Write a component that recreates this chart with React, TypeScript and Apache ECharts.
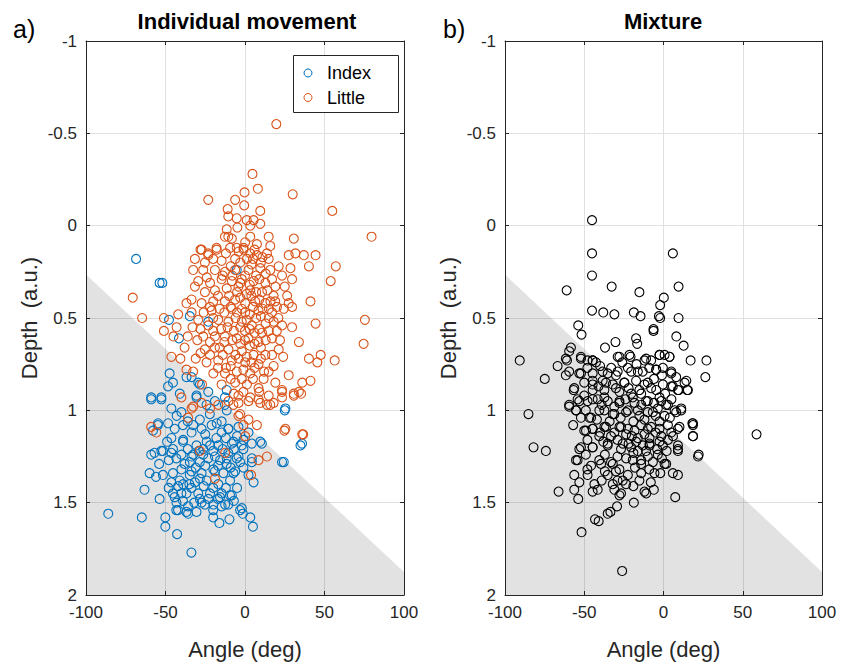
import { useEffect, useRef } from "react";
import * as echarts from "echarts";

const angleTicks = [-100, -50, 0, 50, 100];
const depthRange = [-1, 2];
const shadeAngle = [-100, 100];
const shadeDepth = [0.265, 1.875];

const indexPoints: number[][] = [
  [-68.5,0.18],[-53.7,0.31],[-52,0.31],[-47.8,0.51],[-41.5,0.61],[-34.7,0.49],[-23.1,0.52],[-47.4,0.8],[-48.4,0.87],[-45.3,0.85],[-36.8,0.82],[-59,0.93],[-52.6,0.93],[-41,0.91],[-30.5,0.92],[-28.4,0.86],[-11.5,0.89],[-5.2,0.24],[-33.6,0.82],[-29.4,0.85],[-23.1,0.9],[-18.9,0.95],[-12.6,0.93],
  [-59,0.94],[-52.6,0.94],[-46.3,0.99],[-40,1.01],[-48.4,1.07],[-44.2,1.1],[-54.7,1.07],[-57.9,1.11],[-46.3,1.15],[-38.9,1.16],[-33.6,1.12],[-27.3,1.1],[-21,1.08],[-14.7,1.06],[-10.4,1.1],[-4.1,1.09],[2.2,1.12],[9.6,1.17],[-30.5,1.19],[-24.1,1.17],[-16.8,1.19],[-8.3,1.18],[-2,1.19],[-59,1.24],[-52.6,1.22],[-46.3,1.23],[-40,1.24],[-33.6,1.25],[-26.3,1.24],[-18.9,1.25],[-11.5,1.26],[-4.1,1.25],[4.3,1.26],[24.4,1.28],[35.9,1.18],[25.4,0.99],[-60,1.34],[-51.6,1.35],[-45.3,1.34],[-40,1.32],[-33.6,1.33],[-27.3,1.34],[-19.9,1.32],[-13.6,1.34],[-6.2,1.33],[-1,1.31],[5.4,1.39],[-46.3,1.39],[-38.9,1.4],[-31.5,1.39],[-24.1,1.38],[-16.8,1.4],[-9.4,1.38],[-63.2,1.43],[-53.7,1.48],[-45.3,1.45],[-36.8,1.45],[-29.4,1.45],[-22,1.45],[-14.7,1.45],[-8.3,1.46],[-43.1,1.5],[-35.8,1.52],[-27.3,1.5],[-19.9,1.51],[-12.5,1.51],[-3.1,1.54],[-36.8,1.55],[-42.1,1.54],
  [-30.5,0.93],[-24.2,0.97],[-12.6,0.97],[-11.5,1.0],[-22.1,1.02],[-28.4,1.05],[-32.6,1.08],[-17.8,1.07],[-10.5,1.1],[-14.7,1.12],[-39,1.08],[-54.8,1.08],[-39,1.17],[-26.3,1.21],[-20,1.22],[-7.3,1.17],[-1,1.16],[4.3,1.18],[10.6,1.18],[-1,1.21],[-56.9,1.23],[-51.6,1.22],[-45.3,1.21],[-32.6,1.24],[-10.5,1.23],[-5.2,1.26],[-43.2,1.26],[-34.7,1.28],[-28.4,1.28],[-23.1,1.26],[-15.7,1.27],[-11.5,1.29],[4.3,1.28],[23.3,1.28],[34.9,1.19],[25,1.0],[-41,1.38],[-34.7,1.35],[-28.4,1.37],[-18.9,1.33],[-7.3,1.34],[2.2,1.35],[-44.2,1.47],[-40,1.45],[-33.7,1.42],[-28.4,1.48],[-15.7,1.47],[-9.4,1.46],[-25.2,1.51],[-20,1.54],[-14.7,1.52],[-10.5,1.51],[-43.2,1.54],[-35.8,1.56],[-30.5,1.55],[-2,1.53],[-1.4,1.56],[3.3,1.58],[5,1.63],[-9.8,1.59],[-16.1,1.61],[-20,1.58],[-86,1.56],[-64.9,1.58],[-50.1,1.58],[-50.1,1.63],[-42.7,1.67],[-33.7,1.77],
  [-43,1.03],[-36,1.06],[-25,1.13],[-18,1.15],[-12,1.15],[-5,1.14],[-49,1.17],[-36,1.21],[-29,1.22],[-22,1.19],[-14,1.21],[-7,1.21],[-54,1.29],[-48,1.27],[-38,1.29],[-31,1.31],[-25,1.3],[-17,1.3],[-9,1.31],[-3,1.28],[-56,1.36],[-48,1.42],[-42,1.41],[-35,1.4],[-26,1.41],[-20,1.42],[-12,1.42],[-5,1.42],[-39,1.49],[-32,1.5],[-23,1.48],[-17,1.48],[-7,1.49]
];

const littlePoints: number[][] = [
  [19.7,-0.55],[4.7,-0.28],[-0.3,-0.18],[8.1,-0.2],[30,-0.17],[-23.1,-0.14],[-6.2,-0.14],[-0.5,-0.11],[9.6,-0.08],[54.9,-0.08],[-10.9,-0.09],[-10.5,-0.05],[-5.2,-0.04],[1.1,-0.03],[5.4,-0.03],[9.6,-0.01],[3.3,0],[-11.5,0.02],[-4.8,0.01],[14.9,0.06],[30.7,0.07],[79.6,0.06],[-10.5,0.06],[0.1,0.09],[7.5,0.1],[15.9,0.11],[-28,0.13],[-17.9,0.12],[-23.1,0.15],[-0.9,0.12],[-5.2,0.12],[27.5,0.16],[31.7,0.15],[37,0.16],[44.4,0.16],[13.8,0.15],[3.3,0.15],
  [-8.3,0.07],[-12.6,0.06],[3.3,0.06],
  [-27.3,0.13],[-23.1,0.16],[-17.8,0.13],[-9.4,0.12],[-0.9,0.13],[40.2,0.22],[57.1,0.22],[53.9,0.3],[-31.5,0.18],[-25.2,0.2],[-20,0.18],[-14.7,0.19],[-6.2,0.18],[1.2,0.18],[7.5,0.16],[14.9,0.18],[21.2,0.22],[28.6,0.23],[-32.6,0.24],[-26.3,0.24],[-18.9,0.24],[-12.6,0.25],[-6.2,0.24],[2.2,0.24],[9.6,0.23],[15.9,0.24],[23.3,0.27],[29.6,0.29],[-29.4,0.3],[-22,0.31],[-14.7,0.29],[-8.3,0.3],[-2,0.29],[5.4,0.3],[12.8,0.31],[19.1,0.33],[-31.5,0.33],[-25.2,0.36],[-18.9,0.35],[-11.5,0.34],[-4.1,0.33],[3.3,0.35],[10.7,0.36],[18,0.38],[26.5,0.38],[27.5,0.42],[41.2,0.41],[-33.6,0.4],[-27.3,0.42],[-20,0.41],[-12.6,0.41],[-6.2,0.4],[0.1,0.42],[6.4,0.41],[12.8,0.42],[20.1,0.44],
  [-70.6,0.39],[-64.7,0.5],[-51,0.57],[-51,0.5],[-46.3,0.71],[-40.6,0.72],[-36.8,0.42],[-36.8,0.78],[75.4,0.51],[74.6,0.64],
  [-33.6,0.47],[-29.4,0.51],[-21,0.46],[-8.3,0.45],[0.1,0.47],[8.5,0.46],[17,0.47],[24.4,0.45],[29.6,0.44],[23.3,0.54],[29.6,0.55],[44.4,0.53],[33.9,0.63],[21.2,0.67],[40.2,0.72],[47.6,0.7],[45.5,0.74],[56.4,0.73],[27.5,0.81],[36,0.85],[41.2,0.84],[33.9,0.9],[30.7,0.91],[23.3,0.89],[19.1,0.85],[11.7,0.83],[14.9,0.79],[8.5,0.75],[12.8,0.7],[17,0.61],[10.7,0.58],[4.3,0.54],[-2,0.52],[-10.4,0.52],[-16.8,0.51],[-23.1,0.54],[-26.3,0.6],[-18.9,0.6],[-12.6,0.6],[-5.2,0.61],[2.2,0.61],[8.5,0.63],[-25.2,0.67],[-18.9,0.66],[-10.4,0.67],[-2,0.68],[5.4,0.7],[-24.2,0.74],[-16.8,0.73],[-8.3,0.73],[0.1,0.74],[-19.9,0.8],[-12.6,0.8],[-5.2,0.79],[3.3,0.8],[-32.6,0.79],[-14.7,0.86],[-6.2,0.85],[1.2,0.86],[8.5,0.88],[14.9,0.92],[23.3,0.93],[-4.1,0.92],[3.3,0.93],
  [-3,0.2],[4,0.21],[10,0.2],[-8,0.27],[0,0.27],[7,0.27],[13,0.26],[-5,0.36],[1,0.37],[7,0.36],[14,0.35],[-9,0.44],[-2,0.45],[5,0.44],[11,0.45],[-6,0.5],[1,0.51],[7,0.5],[13,0.53],[-7,0.57],[0,0.57],[6,0.58],[-3,0.64],[3,0.65],[10,0.66],[-6,0.7],[1,0.71],[-1,0.78],[6,0.77],[-9,0.76],[-14,0.7],[-15,0.56],[-20,0.5],[-16,0.45],[18,0.52],[15,0.45],[20,0.57],[-28,0.56],[-30,0.62],[-22,0.63],
  [-12,0.15],[-4,0.14],[6,0.13],[11,0.17],[-9,0.22],[5,0.18],[-14,0.27],[-3,0.31],[3,0.32],[9,0.29],[17,0.29],[-10,0.38],[-3,0.39],[4,0.38],[9,0.4],[16,0.41],[-13,0.47],[-5,0.47],[3,0.48],[10,0.49],[15,0.5],[-11,0.55],[-3,0.55],[3,0.56],[9,0.56],[15,0.57],[-13,0.63],[-8,0.62],[0,0.62],[6,0.64],[13,0.62],[-12,0.77],[-4,0.72],[4,0.74],[10,0.72],[-16,0.66],[-22,0.7],[-20,0.57],[21,0.5],[22,0.62],[-17,0.38],[-22,0.44],[19,0.41],[25,0.33],[-24,0.28],[-2,0.83],[5,0.83],[-9,0.83],[12,0.79],[-17,0.77],[17,0.7],[18,0.76],[-26,0.47],[24,0.71],[-7,0.91],[9,0.9],[-1,0.9],[-28,0.69],[-33,0.55],[-36,0.6],[-31,0.72],[-27,0.86],[-38,0.66],[-43,0.55],[-42,0.48],[-45,0.6],
  [-40,0.93],[-33.6,0.99],[-27.3,0.96],[-22,0.99],[-16.8,0.97],[-10.4,0.95],[-4.1,0.96],[2.2,0.95],[8.5,0.94],[15.9,0.97],[-4.1,1.03],[2.2,1.05],[7.5,1.08],[25.4,1.1],[36,1.13],[-59,1.09],[-55.8,1.12],[-35.8,1.04],[-18.9,1.37],[3.8,1.35],[13.8,1.25],[8.5,1.27],[0.1,1.14],[-28.4,1.22],[-12.5,1.23],[-32.6,0.98],[-7.3,0.97],[-3.1,1.02],[9.6,0.96],[13.8,0.97],[18,0.96],[23.3,0.9],[30.7,0.92],[35.3,0.91],[24.8,1.11],[36.6,1.13],[-1,1.08]
];

const mixturePoints: number[][] = [
  [-45.1,-0.03],[-45.1,0.15],[5.9,0.15],[-45.1,0.27],[-61.1,0.35],[-32.7,0.33],[-15.2,0.36],[9.5,0.33],[0.2,0.39],[-2.1,0.43],[-45.1,0.46],[-38,0.47],[-31,0.48],[-18.7,0.47],[-14.5,0.49],[-2.9,0.49],[-2.1,0.5],[9.5,0.5],[-53.8,0.54],[-6.3,0.56],
  [-51.7,0.59],[-6.3,0.57],[-17.3,0.61],[-16.6,0.64],[-30.3,0.63],[-36.9,0.66],[8.1,0.6],[12.7,0.65],[-90.7,0.73],[-58.4,0.66],[-59.5,0.68],[-60.9,0.73],[-66.8,0.76],[-61.6,0.81],[-74.9,0.83],[-52.1,0.72],[-47.9,0.73],[-44.7,0.73],[-42.6,0.74],[-27.8,0.71],[-20.8,0.71],[-12,0.73],[-7.8,0.73],[-2.5,0.7],[3.8,0.71],[0.7,0.7],[17.1,0.73],[27.1,0.73],[26.4,0.82],[4.9,0.8],[-0.4,0.77],[-4.6,0.78],[-16.2,0.79],[-22.5,0.77],[-28.9,0.79],[-35.2,0.8],[-44.7,0.8],[-53.1,0.8],[-44.7,0.84],[-38.4,0.84],[-32,0.86],[-24.7,0.85],[-17.3,0.84],[-9.9,0.85],[-4.6,0.89],[4.9,0.87],[9.5,0.89],[14.4,0.84],[15,0.89],[-56.7,0.89],[-44.7,0.89],[-37.3,0.89],[-27.8,0.9],[-20.4,0.91],[-14.1,0.91],[-54.2,0.94],[-47.9,0.95],[-41.5,0.94],[-35.2,0.95],[-27.8,0.96],[-18.3,0.96],[-9.9,0.95],[-1.4,0.95],[2.8,0.97],[-59.5,0.98],[-55.2,1.0],[-52.1,1.04],[-45.7,1.04],[-37.3,1.0],[-31,1.02],[-22.5,1.0],[-16.2,1.0],[-9.9,1.01],[-3.6,0.99],[7,1.0],[11.2,1.0],[-85.2,1.02],[18.2,1.07],[18.6,1.08],[18.6,1.14],[58.7,1.13],[9.1,1.1],[2.8,1.08],[-2.5,1.06],[-7.8,1.09],[-14.1,1.08],[-22.5,1.1],[-27.8,1.09],[-37.3,1.09],[-44.7,1.1],[-48.9,1.11],[-40.5,1.14],[-33.1,1.14],[-23.6,1.13],[-16.2,1.15],[-8.8,1.15],[-1.4,1.14],[2.8,1.16],[9.1,1.19],[-82,1.2],[-74.2,1.22],
  [-52.1,1.2],[-44.7,1.2],[-35.2,1.19],[-26.8,1.21],[-20.4,1.2],[-16.2,1.22],[-8.8,1.18],[-0.4,1.19],[9.1,1.22],[22.2,1.24],[-54.2,1.27],[-45.7,1.3],[-39.4,1.29],[-33.1,1.28],[-27.8,1.32],[-19.4,1.27],[-14.1,1.29],[-9.9,1.25],[-3.6,1.24],[0.7,1.29],[5.9,1.34],[9.1,1.35],[-5.7,1.34],[-14.1,1.34],[-22.5,1.35],[-35.2,1.35],[-47.9,1.35],[-56.3,1.35],[-53.1,1.39],[-43.6,1.4],[-32,1.4],[-25.7,1.38],[-15.2,1.38],[-66.2,1.44],[-56.3,1.43],[-44.7,1.44],[-41.5,1.43],[-31,1.43],[-26.8,1.45],[-23.6,1.4],[-12,1.44],[-6.1,1.43],[-10.9,1.45],[-53.8,1.48],[-27.8,1.46],[-18.7,1.5],[7.4,1.47],[-29.3,1.52],[-33.5,1.55],[-35.2,1.56],[-40.9,1.6],[-43.2,1.59],[-51.7,1.66],[-26.1,1.87],
  [-61.6,0.72],[-52.1,0.71],[-44.7,0.73],[-28.9,0.71],[-21.5,0.7],[-11,0.72],[-2.5,0.7],[3.8,0.71],[-59.5,0.79],[-52.1,0.8],[-38.4,0.79],[-30,0.81],[-20.4,0.79],[-13.1,0.79],[-4.6,0.78],[4.9,0.79],[-56.3,0.88],[-44.7,0.86],[-36.3,0.85],[-24.7,0.85],[-15.2,0.89],[-7.8,0.88],[-0.4,0.86],[5.9,0.87],[13.3,0.85],[9.1,0.89],[15.4,0.89],[-59.5,0.97],[-53.1,0.95],[-44.7,0.94],[-37.3,0.93],[-27.8,0.95],[-19.4,0.93],[-11,0.95],[-2.5,0.93],[1.7,0.97],[-55.2,1.0],[-46.8,1.04],[-40.5,1.0],[-32,1.02],[-23.6,1.01],[-15.2,1.03],[-6.7,1.01],[0.7,1.03],[8,1.01],[11.2,0.99],[18.6,1.07],[-50,1.11],[-44.7,1.1],[-36.3,1.09],[-26.8,1.09],[-18.3,1.11],[-9.9,1.1],[-2.5,1.1],[4.9,1.12],[10.1,1.09],[18.6,1.14],[-35.2,1.18],[-53.1,1.21],[-44.7,1.2],[-25.7,1.18],[-17.3,1.17],[-8.8,1.19],[-2.5,1.17],[9.1,1.21],[21.8,1.25],[-55.2,1.27],[-40.5,1.27],[-32,1.29],[-23.6,1.26],[-14.1,1.27],[-6.7,1.28],[1.7,1.29],
  [-48,0.77],[-40,0.76],[-33,0.77],[-26,0.74],[-17,0.75],[-9,0.77],[-1,0.81],[8,0.82],[-50,0.85],[-41,0.87],[-30,0.88],[-22,0.88],[-12,0.86],[-6,0.83],[1,0.91],[-50,0.92],[-39,0.97],[-31,0.98],[-24,0.94],[-14,0.97],[-6,0.96],[5,0.94],[-49,1.0],[-42,1.05],[-34,1.06],[-27,1.04],[-19,1.06],[-12,1.05],[-5,1.03],[4,1.04],[-57,1.08],[-40,1.12],[-31,1.12],[-20,1.14],[-12,1.13],[-5,1.12],[6,1.14],[-48,1.16],[-38,1.17],[-29,1.16],[-22,1.18],[-13,1.19],[-4,1.21],[2,1.22],[-49,1.24],[-37,1.24],[-29,1.25],[-19,1.23],[-11,1.22],[-1,1.26],[-48,1.32],[-37,1.33],[-30,1.33],[-18,1.31],[-9,1.32],[-2,1.34],[-39,1.38],[-29,1.38],[-19,1.41],[-8,1.39]
];

const FONT = '"Liberation Sans", Arial, sans-serif';
const AXIS_COLOR = "#262626";
const GRID_COLOR = "#e0e0e0";
const INDEX_COLOR = "#0072BD";
const LITTLE_COLOR = "#D95319";
const legendItems = [
  { name: "Index", color: INDEX_COLOR },
  { name: "Little", color: LITTLE_COLOR },
];

function xAxes(gridIndex: number) {
  const common = {
    type: "value" as const,
    gridIndex,
    min: angleTicks[0],
    max: angleTicks[angleTicks.length - 1],
    interval: 50,
    axisLine: { show: true, onZero: false, lineStyle: { color: AXIS_COLOR, width: 1 } },
    axisTick: { show: true, inside: true, length: 4, lineStyle: { color: AXIS_COLOR } },
  };
  return [
    {
      ...common,
      position: "bottom",
      axisLabel: { fontSize: 17, color: AXIS_COLOR, fontFamily: FONT, margin: 9 },
      splitLine: { show: true, lineStyle: { color: GRID_COLOR, width: 1 } },
      name: "Angle (deg)",
      nameLocation: "middle",
      nameGap: 43,
      nameTextStyle: { fontSize: 22, color: AXIS_COLOR, fontFamily: FONT },
    },
    {
      ...common,
      position: "top",
      axisLabel: { show: false },
      splitLine: { show: false },
    },
  ];
}

function yAxes(gridIndex: number) {
  const common = {
    type: "value" as const,
    gridIndex,
    inverse: true,
    min: depthRange[0],
    max: depthRange[1],
    interval: 0.5,
    axisLine: { show: true, onZero: false, lineStyle: { color: AXIS_COLOR, width: 1 } },
    axisTick: { show: true, inside: true, length: 4, lineStyle: { color: AXIS_COLOR } },
  };
  return [
    {
      ...common,
      position: "left",
      axisLabel: { fontSize: 17, color: AXIS_COLOR, fontFamily: FONT, margin: 9 },
      splitLine: { show: true, lineStyle: { color: GRID_COLOR, width: 1 } },
      name: "Depth  (a.u.)",
      nameLocation: "middle",
      nameGap: 46,
      nameRotate: 90,
      nameTextStyle: { fontSize: 22, color: AXIS_COLOR, fontFamily: FONT },
    },
    {
      ...common,
      position: "right",
      axisLabel: { show: false },
      splitLine: { show: false },
    },
  ];
}

function shadeSeries(axisIndex: number) {
  return {
    type: "custom",
    xAxisIndex: axisIndex,
    yAxisIndex: axisIndex,
    silent: true,
    z: 1,
    data: [[shadeAngle[0], shadeDepth[0]]],
    renderItem: (_params: any, api: any) => {
      const pts = [
        api.coord([shadeAngle[0], shadeDepth[0]]),
        api.coord([shadeAngle[1], shadeDepth[1]]),
        api.coord([shadeAngle[1], depthRange[1]]),
        api.coord([shadeAngle[0], depthRange[1]]),
      ];
      return {
        type: "polygon",
        shape: { points: pts },
        style: { fill: "rgba(0,0,0,0.115)", stroke: "none" },
      };
    },
  };
}

function scatter(name: string, data: number[][], color: string, axisIndex: number) {
  return {
    type: "scatter",
    name,
    xAxisIndex: axisIndex,
    yAxisIndex: axisIndex,
    data,
    symbol: "circle",
    symbolSize: 9,
    z: 3,
    itemStyle: { color: "rgba(0,0,0,0)", borderColor: color, borderWidth: 1.1, opacity: 1 },
    emphasis: { disabled: true },
  };
}

export default function App() {
  const ref = useRef<HTMLDivElement>(null);
  useEffect(() => {
    if (!ref.current) return;
    const chart = echarts.init(ref.current, undefined, { renderer: "svg" });
    const legendGraphic: any[] = [
      { type: "rect", shape: { x: 293.5, y: 55.5, width: 105, height: 57 }, style: { fill: "#ffffff", stroke: AXIS_COLOR, lineWidth: 1 }, z: 10 },
    ];
    legendItems.forEach((it, i) => {
      const cy = 73 + i * 24.5;
      legendGraphic.push({ type: "circle", shape: { cx: 308, cy, r: 4 }, style: { fill: "none", stroke: it.color, lineWidth: 1 }, z: 11 });
      legendGraphic.push({ type: "text", x: 327, y: cy, style: { text: it.name, fontSize: 18, fontFamily: FONT, fill: "#000", align: "left", verticalAlign: "middle" }, z: 11 });
    });
    chart.setOption({
      animation: false,
      backgroundColor: "#ffffff",
      grid: [
        { left: 86, top: 41, width: 318, height: 554 },
        { left: 505, top: 41, width: 317, height: 554 },
      ],
      xAxis: [...xAxes(0), ...xAxes(1)],
      yAxis: [...yAxes(0), ...yAxes(1)],
      graphic: [
        { type: "text", x: 247, y: 21, style: { text: "Individual movement", fontSize: 22, fontWeight: "bold", fontFamily: FONT, fill: "#000", align: "center", verticalAlign: "middle" } },
        { type: "text", x: 663, y: 21, style: { text: "Mixture", fontSize: 22, fontWeight: "bold", fontFamily: FONT, fill: "#000", align: "center", verticalAlign: "middle" } },
        { type: "text", x: 13, y: 29, style: { text: "a)", fontSize: 25, fontFamily: FONT, fill: "#000", align: "left", verticalAlign: "middle" } },
        { type: "text", x: 443, y: 29, style: { text: "b)", fontSize: 25, fontFamily: FONT, fill: "#000", align: "left", verticalAlign: "middle" } },
        ...legendGraphic,
      ],
      series: [
        shadeSeries(0),
        scatter("Index", indexPoints, INDEX_COLOR, 0),
        scatter("Little", littlePoints, LITTLE_COLOR, 0),
        shadeSeries(2),
        scatter("Mixture", mixturePoints, "#000000", 2),
      ],
    });
    return () => chart.dispose();
  }, []);
  return <div ref={ref} style={{ width: 843, height: 666, position: "absolute", left: 0, top: 0 }} />;
}
